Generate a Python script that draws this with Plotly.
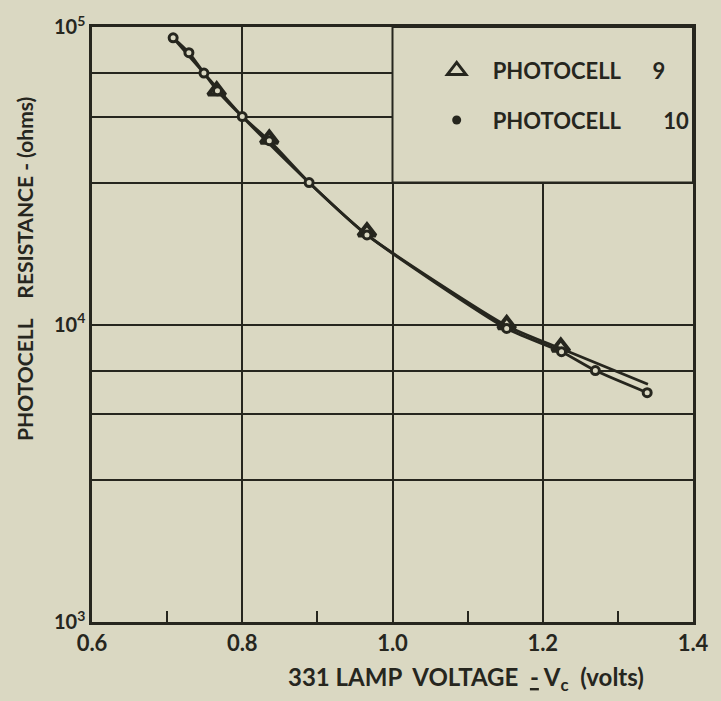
import plotly.graph_objects as go

# ---- data ----
volt9 = [0.766, 0.836, 0.966, 1.152, 1.224]
res9 = [61000, 42000, 20500, 10000, 8400]
# smooth curve drawn through photocell 9 points (extends past last point)
curve9_volt = [0.708, 0.749, 0.800, 0.889, 0.966, 1.152, 1.224, 1.340]
curve9_res = [92000, 70000, 50000, 30000, 20000, 9900, 8300, 6300]

volt10 = [0.708, 0.729, 0.749, 0.767, 0.800, 0.836, 0.889, 0.966, 1.152, 1.225, 1.270, 1.339]
res10 = [92000, 82000, 70000, 61000, 50000, 41500, 30000, 20000, 9700, 8100, 7000, 5900]

x_ticks = [0.6, 0.8, 1.0, 1.2, 1.4]
x_ticklabels = ["0.6", "0.8", "1.0", "1.2", "1.4"]
x_minor = [0.7, 0.9, 1.1, 1.3]
y_ticks = [1000, 3000, 5000, 7000, 10000, 30000, 50000, 70000, 100000]
y_ticklabels = ["10<sup>3</sup>", "", "", "", "10<sup>4</sup>", "", "", "", "10<sup>5</sup>"]

BG = "#dad8c2"
INK = "#26261e"
FONT = "Lato"
W = 700
NB = "\u00a0"

fig = go.Figure()

fig.add_trace(go.Scatter(x=curve9_volt, y=curve9_res, mode="lines", line=dict(color=INK, width=2.8, shape="spline", smoothing=0.6),
                         showlegend=False, hoverinfo="skip"))
fig.add_trace(go.Scatter(x=volt10, y=res10, mode="lines", line=dict(color=INK, width=2.8, shape="spline", smoothing=0.6),
                         showlegend=False, hoverinfo="skip"))
fig.add_trace(go.Scatter(x=volt9, y=res9, mode="markers",
                         marker=dict(symbol="triangle-up-open", size=15, color=INK, line=dict(color=INK, width=4)),
                         showlegend=False))
fig.add_trace(go.Scatter(x=volt10, y=res10, mode="markers",
                         marker=dict(symbol="circle", size=8, color=BG, line=dict(color=INK, width=3)),
                         showlegend=False))

# legend entries
fig.add_trace(go.Scatter(x=[None], y=[None], mode="markers", name=NB * 3 + "PHOTOCELL" + NB * 6 + "9",
                         legendgroup="a",
                         marker=dict(symbol="triangle-up-open", size=16, color=INK, line=dict(color=INK, width=3))))
fig.add_trace(go.Scatter(x=[None], y=[None], mode="markers", name=NB * 3 + "PHOTOCELL" + NB * 8 + "10",
                         legendgroup="b",
                         marker=dict(symbol="circle", size=9, color=INK)))

# blank legend panel (the grid is interrupted there)
fig.add_shape(type="rect", xref="x", yref="y", x0=1.0, x1=1.4, y0=30000, y1=100000,
              fillcolor=BG, line=dict(color=INK, width=2), layer="between")

fig.add_annotation(text="PHOTOCELL" + NB * 3 + " RESISTANCE - (ohms)", textangle=-90,
                   xref="paper", yref="paper", x=-0.1136, y=0.593, xanchor="center", yanchor="middle",
                   showarrow=False, font=dict(family=FONT, size=21, color=INK, weight=W))
fig.add_annotation(text="331 LAMP" + NB + " VOLTAGE" + NB + " <u>-</u>" + NB + "V<sub>c</sub>" + NB + " (volts)",
                   xref="paper", yref="paper", x=0.622, y=-0.095, xanchor="center", yanchor="middle",
                   showarrow=False, font=dict(family=FONT, size=24, color=INK, weight=W))

fig.update_xaxes(range=[0.6, 1.4], tickvals=x_ticks, ticktext=x_ticklabels,
                 showgrid=True, gridcolor=INK, gridwidth=2,
                 showline=True, linecolor=INK, linewidth=2.5, mirror=True,
                 ticks="", zeroline=False, ticklabeloverflow="allow",
                 tickfont=dict(family=FONT, size=22, color=INK, weight=W),
                 minor=dict(tickvals=x_minor, ticks="inside", ticklen=11, tickwidth=2, tickcolor=INK, showgrid=False))
fig.update_yaxes(type="log", range=[3, 5], tickvals=y_ticks, ticktext=y_ticklabels,
                 showgrid=True, gridcolor=INK, gridwidth=2,
                 showline=True, linecolor=INK, linewidth=2.5, mirror=True,
                 ticks="", zeroline=False,
                 tickfont=dict(family=FONT, size=20, color=INK, weight=W))

fig.update_layout(
    width=721, height=701,
    margin=dict(l=92, r=13, t=20, b=79),
    paper_bgcolor=BG, plot_bgcolor=BG,
    font=dict(family=FONT, color=INK),
    legend=dict(x=0.5735, y=0.962, xanchor="left", yanchor="top", bgcolor="rgba(0,0,0,0)",
                traceorder="grouped", tracegroupgap=18,
                font=dict(family=FONT, size=22, color=INK, weight=W)),
)

fig.write_html("out.html")
